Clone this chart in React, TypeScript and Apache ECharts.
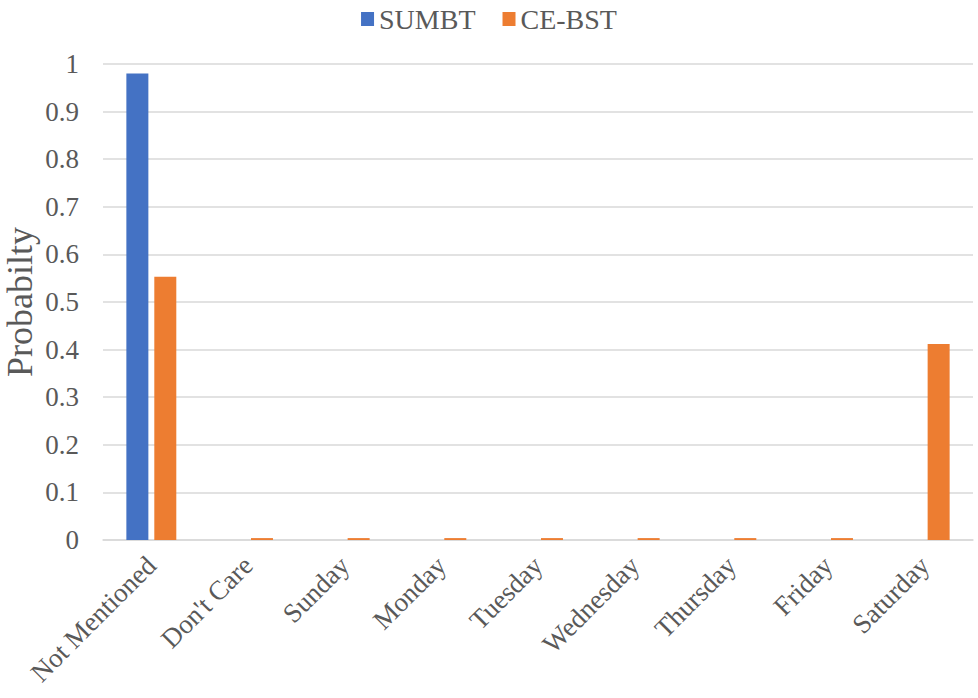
import React, { useEffect, useRef } from "react";
import * as echarts from "echarts";

const categories = ["Not Mentioned", "Don't Care", "Sunday", "Monday", "Tuesday", "Wednesday", "Thursday", "Friday", "Saturday"];
const sumbtValues = [0.98, 0, 0, 0, 0, 0, 0, 0, 0];
const cebstValues = [0.553, 0.004, 0.004, 0.004, 0.004, 0.004, 0.004, 0.004, 0.412];
const seriesNames = ["SUMBT", "CE-BST"];

const FONT = "'Liberation Serif', 'Times New Roman', serif";

export default function App() {
  const ref = useRef<HTMLDivElement>(null);
  useEffect(() => {
    document.body.style.margin = "0";
    const chart = echarts.init(ref.current!, null, { renderer: "svg" });
    chart.setOption({
      animation: false,
      textStyle: { fontFamily: FONT },
      legend: {
        top: 0,
        left: "center",
        itemWidth: 13,
        itemHeight: 14,
        itemGap: 27,
        icon: "rect",
        textStyle: { fontFamily: FONT, fontSize: 28, color: "#595959" },
        data: seriesNames,
      },
      grid: { left: 103, right: 5, top: 64, bottom: 158, containLabel: false, outerBoundsMode: "none" },
      xAxis: {
        type: "category",
        data: categories,
        axisLine: { lineStyle: { color: "#d9d9d9", width: 1.5 } },
        axisTick: { show: false },
        axisLabel: { rotate: 45, fontFamily: FONT, fontSize: 27, color: "#595959", margin: 21, interval: 0 },
      },
      yAxis: {
        type: "value",
        min: 0,
        max: 1,
        interval: 0.1,
        name: "Probabilty",
        nameLocation: "middle",
        nameMoveOverlap: false,
        nameGap: 65,
        nameTextStyle: { fontFamily: FONT, fontSize: 36, color: "#595959", lineHeight: 36 },
        axisLine: { show: false },
        axisTick: { show: false },
        splitLine: { lineStyle: { color: "#d9d9d9", width: 1.5 } },
        axisLabel: {
          fontFamily: FONT,
          fontSize: 27,
          color: "#595959",
          margin: 24,
          formatter: (v: number) => String(Math.round(v * 10) / 10),
        },
      },
      series: [
        { name: seriesNames[0], type: "bar", data: sumbtValues, itemStyle: { color: "#4472c4" }, barWidth: 22, barGap: "27%" },
        { name: seriesNames[1], type: "bar", data: cebstValues, itemStyle: { color: "#ed7d31" }, barWidth: 22, barGap: "27%" },
      ],
    });
    return () => chart.dispose();
  }, []);
  return <div ref={ref} style={{ width: 978, height: 698 }} />;
}
